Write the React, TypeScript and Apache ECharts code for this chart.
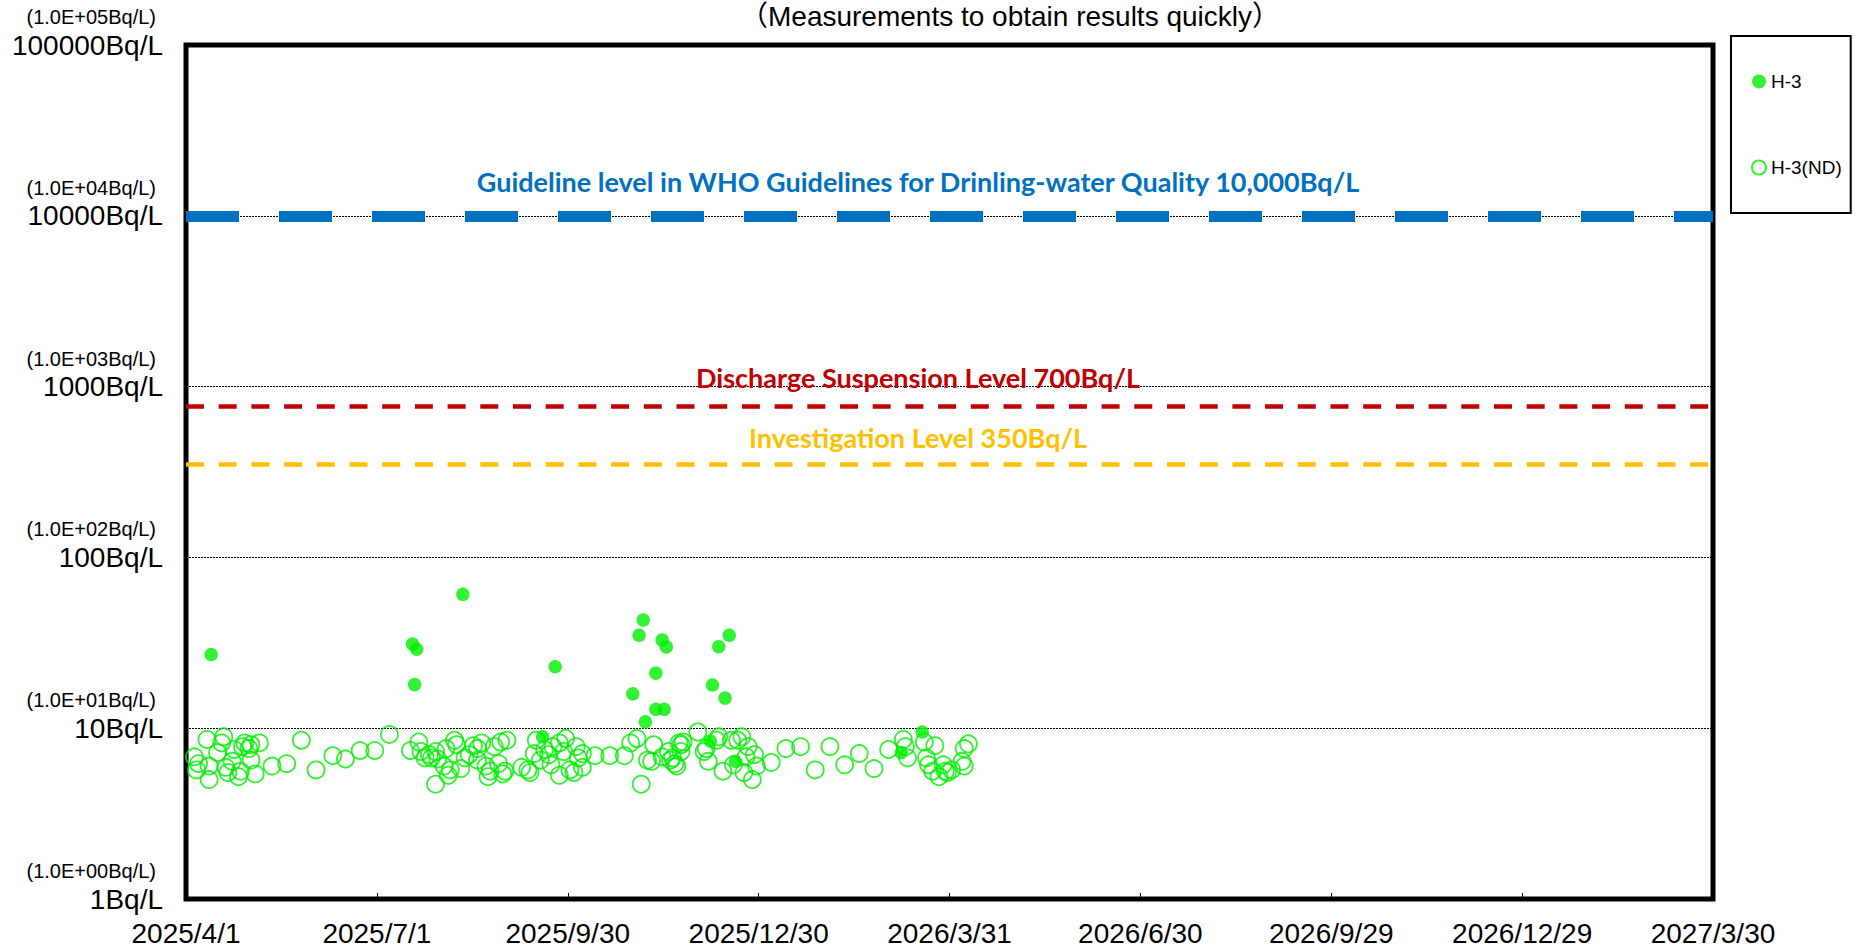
import React, { useEffect, useRef } from "react";
import * as echarts from "echarts";

// ---- data ----
const START = "2025/4/1";
const X_MAX_DAYS = 728;
const X_INTERVAL = 91;
const xTickLabels = ["2025/4/1", "2025/7/1", "2025/9/30", "2025/12/30", "2026/3/31", "2026/6/30", "2026/9/29", "2026/12/29", "2027/3/30"];
const yBigLabels = ["1Bq/L", "10Bq/L", "100Bq/L", "1000Bq/L", "10000Bq/L", "100000Bq/L"];
const ySmallLabels = ["(1.0E+00Bq/L)", "(1.0E+01Bq/L)", "(1.0E+02Bq/L)", "(1.0E+03Bq/L)", "(1.0E+04Bq/L)", "(1.0E+05Bq/L)"];

const titleText = "（Measurements to obtain results quickly）";
const seriesNames = ["H-3", "H-3(ND)"];

// detected H-3 (Bq/L)
const h3Points: [string, number][] = [
  ["2025/4/13", 27], ["2025/7/18", 31.1], ["2025/7/20", 29.0], ["2025/7/19", 18.0], ["2025/8/11", 60.8],
  ["2025/9/24", 22.9], ["2025/9/18", 8.9], ["2025/11/5", 43.0], ["2025/11/3", 35.0], ["2025/11/14", 32.8],
  ["2025/11/16", 29.9], ["2025/11/11", 21.0], ["2025/10/31", 15.9], ["2025/11/11", 12.9], ["2025/11/15", 12.9],
  ["2025/11/6", 10.9], ["2025/12/11", 30.0], ["2025/12/16", 35.0], ["2025/12/8", 17.9], ["2025/12/14", 15.0],
  ["2025/12/7", 8.4], ["2025/12/19", 6.4], ["2026/3/8", 7.2], ["2026/3/18", 9.5],
];

// not detected (detection limit, Bq/L)
const ndPoints: [string, number][] = [
  ["2025/4/5", 6.8], ["2025/4/7", 6.2], ["2025/4/6", 5.7], ["2025/4/11", 8.6], ["2025/4/12", 5.0],
  ["2025/4/12", 6.0], ["2025/4/16", 7.2], ["2025/4/18", 8.2], ["2025/4/19", 8.9], ["2025/4/20", 5.9],
  ["2025/4/21", 5.5], ["2025/4/23", 6.4], ["2025/4/24", 7.5], ["2025/4/26", 5.2], ["2025/4/27", 5.6],
  ["2025/4/28", 7.8], ["2025/4/29", 8.2], ["2025/5/1", 7.6], ["2025/5/2", 8.0], ["2025/5/2", 6.5],
  ["2025/5/4", 5.4], ["2025/5/6", 8.2], ["2025/5/12", 6.0], ["2025/5/19", 6.2], ["2025/5/26", 8.5],
  ["2025/6/2", 5.7], ["2025/6/10", 6.9], ["2025/6/16", 6.6], ["2025/6/23", 7.4], ["2025/6/30", 7.4],
  ["2025/7/7", 9.2], ["2025/7/17", 7.4], ["2025/7/21", 8.3], ["2025/7/22", 7.3], ["2025/7/24", 6.7],
  ["2025/7/26", 7.0], ["2025/7/27", 6.7], ["2025/7/29", 7.3], ["2025/7/30", 6.6], ["2025/7/29", 4.7],
  ["2025/8/2", 6.0], ["2025/8/4", 5.3], ["2025/8/5", 5.7], ["2025/8/3", 7.6], ["2025/8/7", 8.5],
  ["2025/8/8", 8.0], ["2025/8/10", 5.8], ["2025/8/12", 6.7], ["2025/8/14", 7.0], ["2025/8/16", 7.9],
  ["2025/8/18", 7.6], ["2025/8/18", 6.5], ["2025/8/20", 8.2], ["2025/8/22", 6.0], ["2025/8/23", 5.2],
  ["2025/8/24", 5.6], ["2025/8/26", 7.8], ["2025/8/28", 6.2], ["2025/8/29", 8.3], ["2025/8/30", 5.4],
  ["2025/8/31", 5.6], ["2025/9/1", 8.5], ["2025/9/8", 5.9], ["2025/9/11", 5.7], ["2025/9/12", 5.5],
  ["2025/9/14", 7.1], ["2025/9/15", 8.5], ["2025/9/17", 6.5], ["2025/9/19", 7.5], ["2025/9/21", 7.0],
  ["2025/9/22", 6.1], ["2025/9/23", 7.8], ["2025/9/26", 8.2], ["2025/9/26", 5.3], ["2025/9/28", 7.3],
  ["2025/9/29", 8.7], ["2025/10/1", 5.7], ["2025/10/3", 5.5], ["2025/10/4", 7.8], ["2025/10/5", 6.7],
  ["2025/10/7", 5.9], ["2025/10/7", 7.1], ["2025/10/13", 6.9], ["2025/10/20", 6.9], ["2025/10/27", 6.9],
  ["2025/10/30", 8.2], ["2025/11/2", 8.7], ["2025/11/4", 4.7], ["2025/11/7", 6.5], ["2025/11/9", 6.4],
  ["2025/11/10", 8.0], ["2025/11/14", 6.8], ["2025/11/17", 7.3], ["2025/11/18", 6.5], ["2025/11/19", 6.7],
  ["2025/11/20", 6.2], ["2025/11/21", 6.0], ["2025/11/22", 8.2], ["2025/11/23", 8.0], ["2025/11/23", 7.3],
  ["2025/11/24", 8.3], ["2025/12/1", 9.5], ["2025/12/4", 7.3], ["2025/12/5", 7.6], ["2025/12/6", 6.4],
  ["2025/12/10", 8.5], ["2025/12/11", 8.9], ["2025/12/13", 5.6], ["2025/12/17", 8.5], ["2025/12/18", 6.1],
  ["2025/12/20", 8.5], ["2025/12/22", 8.9], ["2025/12/23", 5.5], ["2025/12/24", 6.8], ["2025/12/25", 7.8],
  ["2025/12/27", 5.0], ["2025/12/28", 7.0], ["2025/12/29", 6.0], ["2026/1/5", 6.3], ["2026/1/12", 7.6],
  ["2026/1/19", 7.8], ["2026/1/26", 5.7], ["2026/2/2", 7.8], ["2026/2/9", 6.1], ["2026/2/16", 7.1],
  ["2026/2/23", 5.8], ["2026/3/2", 7.5], ["2026/3/9", 8.6], ["2026/3/10", 7.8], ["2026/3/11", 6.7],
  ["2026/3/19", 8.3], ["2026/3/20", 6.7], ["2026/3/21", 6.1], ["2026/3/23", 5.6], ["2026/3/24", 7.9],
  ["2026/3/26", 5.2], ["2026/3/28", 6.1], ["2026/3/29", 5.6], ["2026/3/30", 5.5], ["2026/4/1", 5.7],
  ["2026/4/6", 6.4], ["2026/4/7", 6.0], ["2026/4/7", 7.6], ["2026/4/9", 8.1],
];

// reference levels
const refLabels = [
  "Guideline level in WHO Guidelines for Drinling-water Quality 10,000Bq/L",
  "Discharge Suspension Level 700Bq/L",
  "Investigation Level 350Bq/L",
];
const refValues = [10000, 770, 350];
const refColors = ["#0070C0", "#C00000", "#FFC000"];
const refWidths = [11, 4.7, 4.7];
const refDashes = [[53, 40], [18, 14.7], [18, 14.7]];
const refLabelOffsets = [-34, -28, -27];
const REF_LABEL_DAY = 349;

const GREEN = "#00EE00";
const FONT = "'Liberation Sans', Arial, sans-serif";

function dayOf(s: string): number {
  const [y, m, d] = s.split("/").map(Number);
  const [y0, m0, d0] = START.split("/").map(Number);
  return Math.round((Date.UTC(y, m - 1, d) - Date.UTC(y0, m0 - 1, d0)) / 86400000);
}

export default function App() {
  const ref = useRef<HTMLDivElement>(null);
  useEffect(() => {
    if (!ref.current) return;
    const chart = echarts.init(ref.current, undefined, { renderer: "svg" });
    const option: any = {
      animation: false,
      backgroundColor: "#fff",
      graphic: [
        {
          type: "text",
          x: 1010,
          y: 16,
          style: {
            text: titleText,
            fontSize: 28,
            fontFamily: "'Liberation Sans', 'Noto Sans CJK JP', sans-serif",
            fill: "#000",
            align: "center",
            verticalAlign: "middle",
          },
        },
      ],
      grid: {
        left: 186,
        top: 45,
        right: 146,
        bottom: 49,
        show: true,
        borderColor: "#000",
        borderWidth: 5,
        backgroundColor: "transparent",
      },
      legend: {
        data: seriesNames,
        orient: "vertical",
        left: 1731,
        top: 36,
        padding: [36, 9, 36, 20],
        itemGap: 67,
        itemWidth: 14,
        itemHeight: 14,
        borderColor: "#000",
        borderWidth: 2,
        textStyle: { fontSize: 19, fontFamily: FONT, color: "#000" },
      },
      xAxis: {
        type: "value",
        min: 0,
        max: X_MAX_DAYS,
        interval: X_INTERVAL,
        axisLine: { show: false },
        axisTick: { show: true, inside: true, length: 6, lineStyle: { color: "#000", width: 1 } },
        splitLine: { show: false },
        axisLabel: {
          margin: 20,
          fontSize: 28,
          fontFamily: FONT,
          color: "#000",
          showMinLabel: true,
          showMaxLabel: true,
          formatter: (v: number) => xTickLabels[Math.round(v / X_INTERVAL)] ?? "",
        },
      },
      yAxis: {
        type: "log",
        logBase: 10,
        min: 1,
        max: 100000,
        axisLine: { show: false },
        axisTick: { show: false },
        splitLine: { show: true, lineStyle: { color: "#000", width: 1, type: [2, 1] } },
        axisLabel: {
          margin: 23,
          showMinLabel: true,
          showMaxLabel: true,
          formatter: (v: number) => {
            const i = Math.round(Math.log10(v));
            return `{s|${ySmallLabels[i]}}\n{b|${yBigLabels[i]}}\n{s| }`;
          },
          rich: {
            s: { fontSize: 20, lineHeight: 28, fontFamily: FONT, color: "#000", padding: [0, 7, 0, 0] },
            b: { fontSize: 28, lineHeight: 28, fontFamily: FONT, color: "#000" },
          },
        },
      },
      series: [
        {
          name: "H-3(ND)",
          type: "scatter",
          symbol: "circle",
          symbolSize: 17,
          itemStyle: { color: "rgba(0,0,0,0)", borderColor: GREEN, borderWidth: 1.8 },
          data: ndPoints.map(([d, v]) => [dayOf(d), v]),
          z: 3,
        },
        {
          name: "H-3",
          type: "scatter",
          symbol: "circle",
          symbolSize: 13.5,
          itemStyle: { color: GREEN },
          data: h3Points.map(([d, v]) => [dayOf(d), v]),
          z: 4,
        },
        {
          name: "levels",
          type: "line",
          data: [],
          silent: true,
          z: 2,
          markLine: {
            silent: true,
            symbol: ["none", "none"],
            label: { show: false },
            data: refValues.map((v, i) => ({
              yAxis: v,
              lineStyle: { color: refColors[i], width: refWidths[i], type: refDashes[i] },
            })),
          },
          markPoint: {
            silent: true,
            symbol: "circle",
            symbolSize: 1,
            itemStyle: { color: "rgba(0,0,0,0)" },
            data: refValues.map((v, i) => ({
              coord: [REF_LABEL_DAY, v],
              name: refLabels[i],
              label: {
                show: true,
                position: "inside",
                offset: [0, refLabelOffsets[i]],
                formatter: "{b}",
                fontFamily: "Lato, 'Open Sans', sans-serif",
                fontWeight: "bold",
                fontSize: 27,
                color: refColors[i],
              },
            })),
          },
        },
      ],
    };
    chart.setOption(option);
    return () => chart.dispose();
  }, []);
  return (
    <div
      ref={ref}
      style={{ position: "fixed", left: 0, top: 0, width: 1859, height: 948 }}
    />
  );
}
